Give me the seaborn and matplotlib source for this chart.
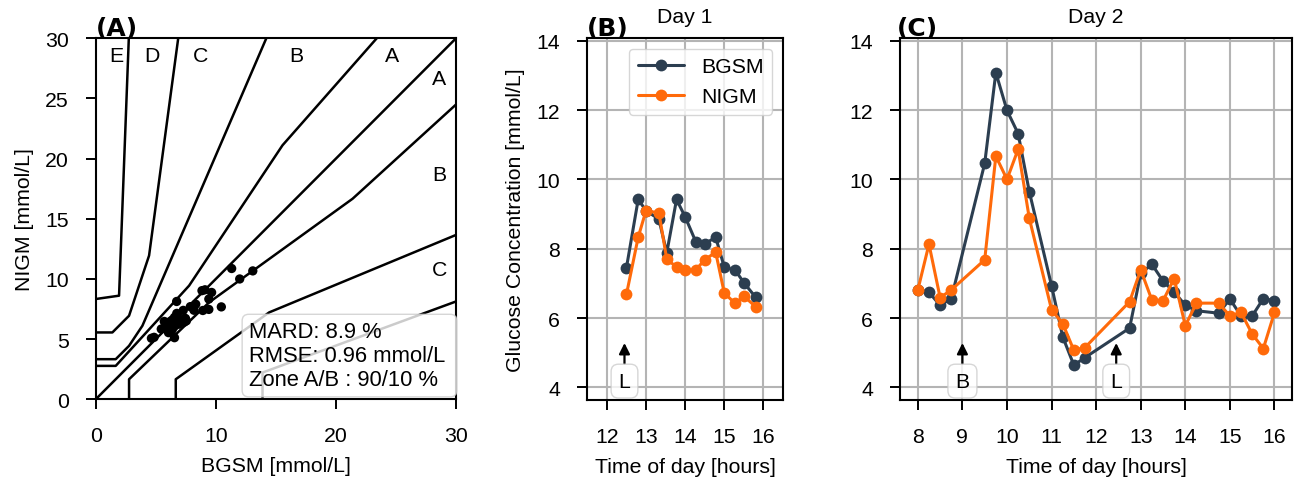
import numpy as np
import pandas as pd
import matplotlib
matplotlib.use("Agg")
import matplotlib.pyplot as plt
import seaborn as sns

# ---------------- data ----------------
day1_time = [12.5, 12.8, 13.0, 13.33, 13.53, 13.78, 14.0, 14.28, 14.5, 14.78, 15.0, 15.28, 15.5, 15.8]
day1_bgsm = [7.45, 9.42, 9.1, 8.85, 7.88, 9.42, 8.92, 8.18, 8.14, 8.33, 7.47, 7.38, 7.02, 6.6]
day1_nigm = [6.68, 8.33, 9.1, 9.03, 7.7, 7.47, 7.38, 7.4, 7.68, 7.9, 6.72, 6.42, 6.63, 6.33]

day2_time = [8.0, 8.25, 8.5, 8.75, 9.5, 9.75, 10.0, 10.25, 10.5, 11.0, 11.25, 11.5, 11.75,
             12.75, 13.0, 13.25, 13.5, 13.75, 14.0, 14.25, 14.75, 15.0, 15.25, 15.5, 15.75, 16.0]
day2_bgsm = [6.82, 6.74, 6.37, 6.56, 10.46, 13.08, 11.99, 11.32, 9.65, 6.93, 5.46, 4.64, 4.86,
             5.71, 7.29, 7.55, 7.07, 6.75, 6.37, 6.21, 6.14, 6.55, 6.06, 6.06, 6.56, 6.5]
day2_nigm = [6.81, 8.13, 6.59, 6.81, 7.68, 10.67, 10.0, 10.87, 8.88, 6.24, 5.84, 5.07, 5.15,
             6.47, 7.39, 6.52, 6.5, 7.14, 5.78, 6.43, 6.43, 6.06, 6.16, 5.54, 5.12, 6.16]

series_names = ["BGSM", "NIGM"]
series_colors = {"BGSM": "#2c3e50", "NIGM": "#ff6a0a"}

day1_events = [("L", 12.45)]
day2_events = [("B", 9.0), ("L", 12.45)]

# Parkes (consensus) error grid, type 1, in mg/dL
MGDL_PER_MMOL = 18.0
grid_lines_mgdl = [
    [(0, 0), (550, 550)],
    [(0, 50), (30, 50), (140, 170), (280, 380), (430, 550)],
    [(50, 0), (50, 30), (170, 145), (385, 300), (550, 450)],
    [(0, 60), (30, 60), (50, 80), (70, 110), (260, 550)],
    [(120, 0), (120, 30), (260, 130), (550, 250)],
    [(0, 100), (25, 100), (50, 125), (80, 215), (125, 550)],
    [(250, 0), (250, 40), (550, 150)],
    [(0, 150), (35, 155), (50, 550)],
]
zone_labels = [("E", 1.7, 28.6), ("D", 4.7, 28.6), ("C", 8.7, 28.6), ("B", 16.7, 28.6),
               ("A", 24.7, 28.6), ("A", 28.6, 26.7), ("B", 28.6, 18.7), ("C", 28.6, 10.8)]
stats_text = "MARD: 8.9 %\nRMSE: 0.96 mmol/L \nZone A/B : 90/10 %"

# ---------------- style ----------------
FS = 15.3
sns.set_theme(style="ticks")
plt.rcParams["font.family"] = ["Liberation Sans", "DejaVu Sans"]
plt.rcParams.update({
    "axes.edgecolor": "black",
    "axes.linewidth": 1.5,
    "xtick.labelsize": FS,
    "ytick.labelsize": FS,
    "axes.labelsize": FS,
    "axes.labelpad": 8,
    "axes.labelcolor": "black",
    "text.color": "black",
})

W, H = 1300, 481
fig = plt.figure(figsize=(W / 100, H / 100), dpi=100)


def ax_at(l, t, r, b):
    return fig.add_axes([l / W, 1 - b / H, (r - l) / W, (b - t) / H])


axA = ax_at(95.7, 39.3, 456.0, 400.3)
axB = ax_at(587.3, 39.3, 783.0, 400.5)
axC = ax_at(900.0, 39.3, 1292.3, 400.5)

for ax in (axA, axB, axC):
    ax.tick_params(axis="both", which="major", direction="out", length=7, width=1.4,
                   pad=12.5, color="black", labelcolor="black", bottom=True, left=True)

# ---------------- panel A ----------------
for seg in grid_lines_mgdl:
    xs = [p[0] / MGDL_PER_MMOL for p in seg]
    ys = [p[1] / MGDL_PER_MMOL for p in seg]
    axA.plot(xs, ys, color="black", lw=1.8, zorder=2)

scatter_df = pd.DataFrame({
    "BGSM": day1_bgsm + day2_bgsm,
    "NIGM": day1_nigm + day2_nigm,
})
sns.scatterplot(data=scatter_df, x="BGSM", y="NIGM", color="black", s=45,
                edgecolor="none", ax=axA, zorder=3)
for lab, x, y in zone_labels:
    axA.text(x, y, lab, ha="center", va="center", fontsize=FS)
axA.set_xlim(0, 30)
axA.set_ylim(0, 30)
axA.set_xticks([0, 10, 20, 30])
axA.set_yticks([0, 5, 10, 15, 20, 25, 30])
axA.set_xlabel("BGSM [mmol/L]")
axA.set_ylabel("NIGM [mmol/L]")
axA.text(0.984, 0.025, stats_text, transform=axA.transAxes, ha="right", va="bottom",
         multialignment="left", fontsize=15.8, linespacing=1.2, zorder=5,
         bbox=dict(boxstyle="round,pad=0.3", fc="white", ec="0.8", alpha=0.8))


# ---------------- panels B, C ----------------
def long_df(t, b, n):
    return pd.DataFrame({
        "time": list(t) + list(t),
        "value": list(b) + list(n),
        "series": ["BGSM"] * len(t) + ["NIGM"] * len(t),
    })


def draw_day(ax, t, b, n, events, title):
    df = long_df(t, b, n)
    sns.lineplot(data=df, x="time", y="value", hue="series", hue_order=series_names,
                 palette=series_colors, marker="o", markersize=8.5, markeredgewidth=0,
                 lw=2.2, ax=ax, legend=False, zorder=3)
    ax.grid(True, color="#b4b4b4", lw=1.5, zorder=0)
    ax.set_axisbelow(True)
    ax.set_ylim(3.65, 14.07)
    ax.set_yticks([4, 6, 8, 10, 12, 14])
    ax.set_xlabel("Time of day [hours]")
    ax.set_title(title, fontsize=FS, pad=12)
    for lab, x in events:
        ax.annotate(lab, xy=(x, 5.28), xytext=(x, 4.18), ha="center", va="center",
                    fontsize=FS, zorder=6,
                    arrowprops=dict(arrowstyle="-|>", color="black", lw=1.6,
                                    mutation_scale=16, shrinkA=0, shrinkB=0),
                    bbox=dict(boxstyle="round,pad=0.35", fc="white", ec="0.8", alpha=0.8))


draw_day(axB, day1_time, day1_bgsm, day1_nigm, day1_events, "Day 1")
axB.set_xlim(11.5, 16.5)
axB.set_xticks([12, 13, 14, 15, 16])
axB.set_ylabel("Glucose Concentration [mmol/L]")
handles = [plt.Line2D([], [], color=series_colors[s], marker="o", markersize=8.5,
                      markeredgewidth=0, lw=2.2) for s in series_names]
axB.legend(handles, series_names, loc="upper right", fontsize=FS, framealpha=0.8,
           handlelength=2.2)

draw_day(axC, day2_time, day2_bgsm, day2_nigm, day2_events, "Day 2")
axC.set_xlim(7.6, 16.4)
axC.set_xticks(list(range(8, 17)))
axC.set_ylabel("")

for ax, lab, dx in [(axA, "(A)", 0.0), (axB, "(B)", 0.0), (axC, "(C)", -0.008)]:
    ax.text(dx, 1.008, lab, transform=ax.transAxes, fontsize=18, fontweight="bold",
            family=["DejaVu Sans"], ha="left", va="baseline")

fig.savefig("out.png", dpi=100)
